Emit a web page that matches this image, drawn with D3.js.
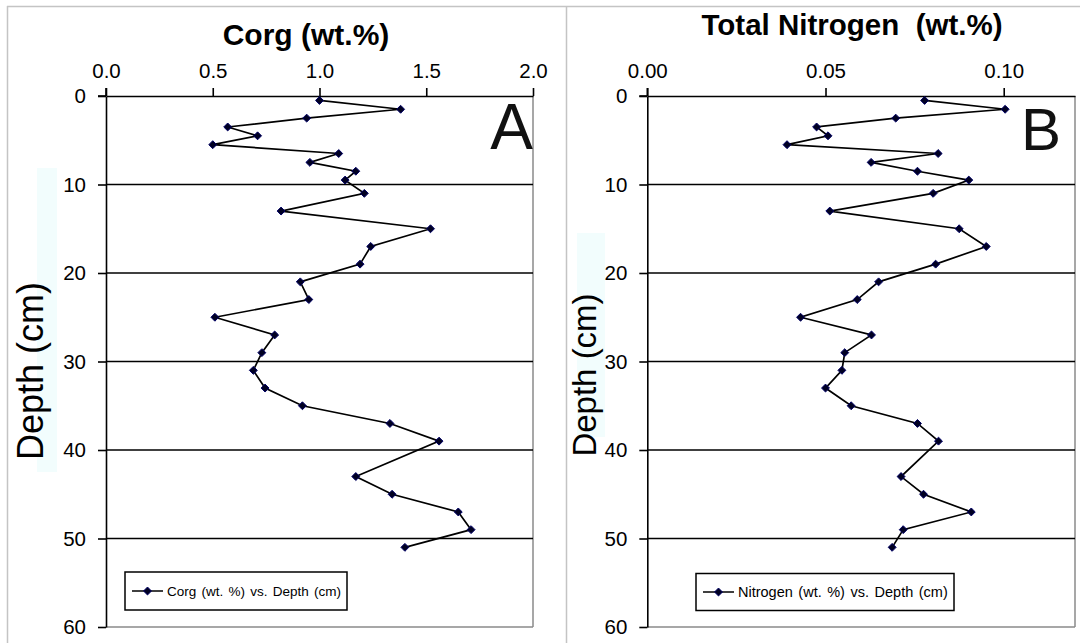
<!DOCTYPE html>
<html>
<head>
<meta charset="utf-8">
<script src="https://cdn.jsdelivr.net/npm/d3@7"></script>
<style>
  html, body { margin: 0; padding: 0; background: #fff; }
  svg { display: block; font-family: "Liberation Sans", Arial, sans-serif; }
</style>
</head>
<body>
<svg id="chart" width="1080" height="643"></svg>
<script>
// ---- data ----
const depths = [0.5, 1.5, 2.5, 3.5, 4.5, 5.5, 6.5, 7.5, 8.5, 9.5,
                11, 13, 15, 17, 19, 21, 23, 25, 27, 29, 31, 33, 35, 37, 39,
                43, 45, 47, 49, 51];
const corg = [1.00, 1.38, 0.94, 0.57, 0.71, 0.50, 1.09, 0.955, 1.17, 1.12,
              1.21, 0.82, 1.52, 1.24, 1.19, 0.91, 0.95, 0.51, 0.79, 0.73, 0.69, 0.745, 0.92, 1.33, 1.56,
              1.17, 1.34, 1.65, 1.71, 1.40];
const nitrogen = [0.0778, 0.1004, 0.0697, 0.0475, 0.0507, 0.0392, 0.0816, 0.0628, 0.0758, 0.0902,
                  0.0802, 0.0512, 0.0875, 0.0951, 0.0809, 0.0649, 0.0589, 0.0430, 0.0629, 0.0554, 0.0546, 0.0500, 0.0572, 0.0758, 0.0817,
                  0.0712, 0.0775, 0.0909, 0.0718, 0.0687];
const depthTicks = [0, 10, 20, 30, 40, 50, 60];
const corgTicks = [0, 0.5, 1.0, 1.5, 2.0];
const nTicks = [0, 0.05, 0.10];
const titles = ["Corg (wt.%)", "Total Nitrogen  (wt.%)"];
const legendLabels = ["Corg (wt. %) vs. Depth (cm)", "Nitrogen (wt. %) vs. Depth (cm)"];
const panelLetters = ["A", "B"];
const yTitle = "Depth (cm)";

const svg = d3.select("#chart");

// outer frame lines
svg.append("line").attr("x1", 7).attr("x2", 1080).attr("y1", 6.5).attr("y2", 6.5).attr("stroke", "#c4c4c4").attr("stroke-width", 1.5);
svg.append("line").attr("x1", 7.5).attr("x2", 7.5).attr("y1", 6).attr("y2", 643).attr("stroke", "#c4c4c4").attr("stroke-width", 1.5);
svg.append("line").attr("x1", 566.5).attr("x2", 566.5).attr("y1", 6).attr("y2", 643).attr("stroke", "#c4c4c4").attr("stroke-width", 1.5);

const panels = [
  { values: corg, domain: [0, 2], range: [106, 533], ticks: corgTicks, fmt: d3.format(".1f"),
    title: titles[0], titleX: 306, titleY: 45, titleSize: 30, letter: panelLetters[0], letterX: 533, letterY: 149, letterSize: 64,
    legend: legendLabels[0], legX: 125, legY: 572, legW: 222, legH: 38, legFont: 13.5,
    yTitleX: 43, yTitleY: 371, yTitleSize: 36, bgRect: [37, 168, 20, 304] },
  { values: nitrogen, domain: [0, 0.12], range: [647.3, 1075], ticks: nTicks, fmt: d3.format(".2f"),
    title: titles[1], titleX: 852, titleY: 35, titleSize: 29.5, letter: panelLetters[1], letterX: 1021, letterY: 150, letterSize: 60,
    legend: legendLabels[1], legX: 696, legY: 573.5, legW: 258, legH: 37, legFont: 14.5,
    yTitleX: 596, yTitleY: 375, yTitleSize: 33, bgRect: [577, 233, 28, 204] }
];

const yRange = [96, 627];

panels.forEach(p => {
  const g = svg.append("g");
  const x = d3.scaleLinear().domain(p.domain).range(p.range);
  const y = d3.scaleLinear().domain([0, 60]).range(yRange);
  const x0 = p.range[0], x1 = p.range[1];

  // faint background behind y title
  g.append("rect").attr("x", p.bgRect[0]).attr("y", p.bgRect[1]).attr("width", p.bgRect[2]).attr("height", p.bgRect[3])
    .attr("fill", "#f2fdfd");

  // plot border (right & bottom grey)
  g.append("line").attr("x1", x1).attr("x2", x1).attr("y1", yRange[0]).attr("y2", yRange[1]).attr("stroke", "#8a8a8a").attr("stroke-width", 1.5);
  g.append("line").attr("x1", x0).attr("x2", x1).attr("y1", yRange[1]).attr("y2", yRange[1]).attr("stroke", "#8a8a8a").attr("stroke-width", 1.5);

  // gridlines
  g.selectAll(".grid").data(depthTicks.filter(d => d > 0 && d < 60)).enter().append("line")
    .attr("x1", x0).attr("x2", x1).attr("y1", d => y(d)).attr("y2", d => y(d))
    .attr("stroke", "#000").attr("stroke-width", 1.6);

  // top axis
  const topAxis = d3.axisTop(x).tickValues(p.ticks).tickFormat(p.fmt).tickSize(8).tickSizeOuter(0);
  const ta = g.append("g").attr("transform", `translate(0,${yRange[0]})`).call(topAxis);
  ta.select(".domain").attr("stroke", "#000").attr("stroke-width", 1.6);
  ta.selectAll(".tick line").attr("stroke", "#000").attr("stroke-width", 1.6);
  ta.selectAll(".tick text").attr("font-size", 20.5).attr("fill", "#000").attr("y", -18.5)
    .style("font-family", "'Liberation Sans', Arial, sans-serif");
  // extend top axis slightly left (crossing)
  g.append("line").attr("x1", x0 - 8).attr("x2", x0).attr("y1", yRange[0]).attr("y2", yRange[0]).attr("stroke", "#000").attr("stroke-width", 1.6);

  // left axis
  const leftAxis = d3.axisLeft(y).tickValues(depthTicks).tickFormat(d3.format("d")).tickSize(8).tickSizeOuter(0);
  const la = g.append("g").attr("transform", `translate(${x0},0)`).call(leftAxis);
  la.select(".domain").attr("stroke", "#000").attr("stroke-width", 1.6);
  la.selectAll(".tick line").attr("stroke", "#000").attr("stroke-width", 1.6);
  la.selectAll(".tick text").attr("font-size", 20.5).attr("fill", "#000").attr("x", -20)
    .style("font-family", "'Liberation Sans', Arial, sans-serif");
  g.append("line").attr("x1", x0).attr("x2", x0).attr("y1", yRange[0] - 8).attr("y2", yRange[0]).attr("stroke", "#000").attr("stroke-width", 1.6);

  // title
  g.append("text").attr("x", p.titleX).attr("y", p.titleY).attr("text-anchor", "middle")
    .attr("font-size", p.titleSize).attr("font-weight", "bold").attr("fill", "#000").style("white-space", "pre").text(p.title);

  // y title
  g.append("text").attr("transform", `translate(${p.yTitleX},${p.yTitleY}) rotate(-90)`).attr("text-anchor", "middle")
    .attr("font-size", p.yTitleSize).attr("fill", "#000").text(yTitle);

  // panel letter
  g.append("text").attr("x", p.letterX).attr("y", p.letterY).attr("text-anchor", p.letter === "A" ? "end" : "start")
    .attr("font-size", p.letterSize).attr("fill", "#111").text(p.letter);

  // series line
  const pts = depths.map((d, i) => [p.values[i], d]);
  const line = d3.line().x(d => x(d[0])).y(d => y(d[1]));
  g.append("path").datum(pts).attr("d", line).attr("fill", "none").attr("stroke", "#000").attr("stroke-width", 1.7)
    .attr("stroke-linejoin", "miter");

  // markers
  const diamond = d3.symbol().type(d3.symbolDiamond2).size(40);
  g.selectAll(".pt").data(pts).enter().append("path")
    .attr("d", diamond).attr("transform", d => `translate(${x(d[0])},${y(d[1])})`)
    .attr("fill", "#000022").attr("stroke", "#000066").attr("stroke-width", 1);

  // legend
  const lg = g.append("g").attr("transform", `translate(${p.legX},${p.legY})`);
  lg.append("rect").attr("width", p.legW).attr("height", p.legH).attr("fill", "#fff").attr("stroke", "#000").attr("stroke-width", 1.5);
  lg.append("line").attr("x1", 7).attr("x2", 38).attr("y1", p.legH / 2).attr("y2", p.legH / 2).attr("stroke", "#000").attr("stroke-width", 1.5);
  lg.append("path").attr("d", diamond).attr("transform", `translate(22.5,${p.legH / 2})`).attr("fill", "#000022").attr("stroke", "#000066");
  lg.append("text").attr("x", 42).attr("y", p.legH / 2).attr("dy", "0.36em").attr("font-size", p.legFont).attr("fill", "#000")
    .style("word-spacing", "1.5px").text(p.legend);
});
</script>
</body>
</html>
